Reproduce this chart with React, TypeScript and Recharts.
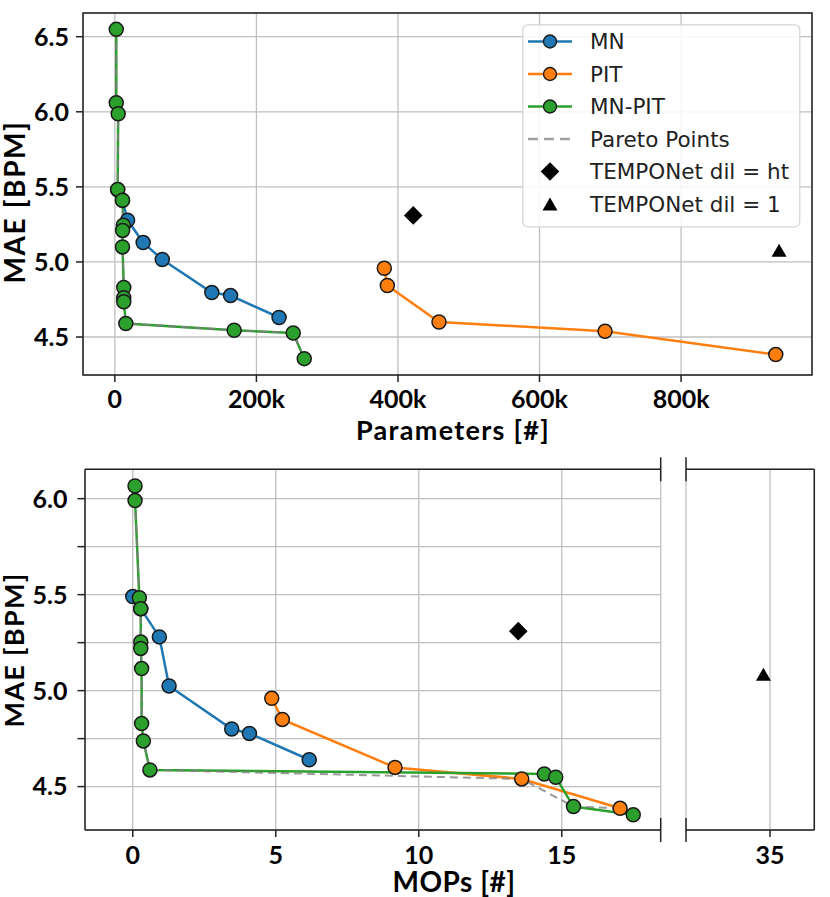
import React from 'react';
import {
  ComposedChart,
  Line,
  Scatter,
  XAxis,
  YAxis,
  CartesianGrid,
  ReferenceLine,
  ReferenceArea,
  Legend,
  Label,
} from 'recharts';

// ---------- data: top panel (Parameters) ----------
const MN_PARAMS = [
  { x: 4000, y: 5.48 },
  { x: 10800, y: 5.41 },
  { x: 18000, y: 5.278 },
  { x: 40000, y: 5.129 },
  { x: 67000, y: 5.016 },
  { x: 137000, y: 4.796 },
  { x: 163500, y: 4.776 },
  { x: 232000, y: 4.63 },
];
const PIT_PARAMS = [
  { x: 380700, y: 4.958 },
  { x: 385000, y: 4.843 },
  { x: 458000, y: 4.6 },
  { x: 692600, y: 4.538 },
  { x: 933800, y: 4.383 },
];
const MNPIT_PARAMS = [
  { x: 2000, y: 6.549 },
  { x: 2000, y: 6.06 },
  { x: 4700, y: 5.987 },
  { x: 4000, y: 5.483 },
  { x: 10800, y: 5.411 },
  { x: 12000, y: 5.245 },
  { x: 11000, y: 5.21 },
  { x: 10800, y: 5.1 },
  { x: 12600, y: 4.83 },
  { x: 12600, y: 4.762 },
  { x: 12600, y: 4.735 },
  { x: 15500, y: 4.59 },
  { x: 168600, y: 4.545 },
  { x: 252000, y: 4.527 },
  { x: 267600, y: 4.356 },
];
const PARETO_PARAMS = MNPIT_PARAMS;
const TEMPO_HT_PARAMS = [{ x: 421600, y: 5.31 }];
const TEMPO_1_PARAMS = [{ x: 938500, y: 5.078 }];
const PARAM_X_TICKS = [0, 200000, 400000, 600000, 800000];
const PARAM_Y_TICKS = [4.5, 5.0, 5.5, 6.0, 6.5];

// ---------- data: bottom panel (MOPs) ----------
const MN_MOPS = [
  { x: 0.0, y: 5.49 },
  { x: 0.28, y: 5.427 },
  { x: 0.93, y: 5.28 },
  { x: 1.27, y: 5.024 },
  { x: 3.46, y: 4.8 },
  { x: 4.08, y: 4.777 },
  { x: 6.17, y: 4.64 },
];
const PIT_MOPS = [
  { x: 4.86, y: 4.96 },
  { x: 5.23, y: 4.85 },
  { x: 9.17, y: 4.6 },
  { x: 13.6, y: 4.54 },
  { x: 17.04, y: 4.387 },
];
const MNPIT_MOPS = [
  { x: 0.08, y: 6.066 },
  { x: 0.08, y: 5.99 },
  { x: 0.23, y: 5.484 },
  { x: 0.28, y: 5.427 },
  { x: 0.28, y: 5.253 },
  { x: 0.28, y: 5.22 },
  { x: 0.31, y: 5.115 },
  { x: 0.31, y: 4.829 },
  { x: 0.37, y: 4.738 },
  { x: 0.6, y: 4.587 },
  { x: 14.39, y: 4.566 },
  { x: 14.79, y: 4.549 },
  { x: 15.41, y: 4.396 },
  { x: 17.5, y: 4.353 },
];
const PARETO_MOPS = [
  { x: 0.08, y: 6.066 },
  { x: 0.08, y: 5.99 },
  { x: 0.23, y: 5.484 },
  { x: 0.28, y: 5.427 },
  { x: 0.28, y: 5.253 },
  { x: 0.28, y: 5.22 },
  { x: 0.31, y: 5.115 },
  { x: 0.31, y: 4.829 },
  { x: 0.37, y: 4.738 },
  { x: 0.6, y: 4.587 },
  { x: 13.6, y: 4.54 },
  { x: 15.41, y: 4.396 },
  { x: 17.04, y: 4.387 },
  { x: 17.5, y: 4.353 },
];
const TEMPO_HT_MOPS = [{ x: 13.48, y: 5.31 }];
const TEMPO_1_MOPS = [{ x: 34.77, y: 5.085 }];
const MOPS_X_TICKS_LEFT = [0, 5, 10, 15];
const MOPS_X_TICKS_RIGHT = [35];
const MOPS_Y_TICKS = [4.5, 4.75, 5.0, 5.25, 5.5, 5.75, 6.0];

const LEGEND_LABELS = ['MN', 'PIT', 'MN-PIT', 'Pareto Points', 'TEMPONet dil = ht', 'TEMPONet dil = 1'];

// ---------- style ----------
const BLUE = '#1f77b4';
const ORANGE = '#ff7f0e';
const GREEN = '#2ca02c';
const EDGE = '#1a1a1a';
const SPINE = '#222';
const GRID = '#bfbfbf';
const PARETO = '#808080';
const BOLD = 'Lato, "Open Sans", sans-serif';
const MPL = '"DejaVu Sans", sans-serif';

// domains
const PX_MIN = -45000;
const PX_MAX = 985000;
const PY_MIN = 4.247;
const PY_MAX = 6.658;
const MX_MIN = -1.67;
const MX_MAX = 18.46;
const MX2_MIN = 32.06;
const MX2_MAX = 36.55;
const MY_MIN = 4.274;
const MY_MAX = 6.153;
const BOTTOM_PLOT_H = 360.7;
const BREAK = (12 * (MY_MAX - MY_MIN)) / BOTTOM_PLOT_H;

const circleShape = (fill: string) => (p: any) => (
  <circle cx={p.cx} cy={p.cy} r={7} fill={fill} stroke={EDGE} strokeWidth={1.5} />
);
const diamondShape = (p: any) => {
  const h = 9.3;
  return (
    <polygon
      points={`${p.cx},${p.cy - h} ${p.cx + h},${p.cy} ${p.cx},${p.cy + h} ${p.cx - h},${p.cy}`}
      fill="#000"
    />
  );
};
const triangleShape = (p: any) => (
  <polygon
    points={`${p.cx},${p.cy - 6.5} ${p.cx + 7.5},${p.cy + 6.5} ${p.cx - 7.5},${p.cy + 6.5}`}
    fill="#000"
  />
);

const fmtK = (v: number) => (v === 0 ? '0' : `${v / 1000}k`);
const fmtHalf = (v: number) => (Math.abs(v * 2 - Math.round(v * 2)) < 1e-6 ? v.toFixed(1) : '');

const LegendBox = () => {
  const colors = [BLUE, ORANGE, GREEN];
  return (
    <svg width={280} height={205} style={{ display: 'block' }}>
      <rect x={0.8} y={0.8} width={277} height={202} rx={5} fill="#fff" fillOpacity={0.85} stroke="#d6d6d6" strokeWidth={1.3} />
      {LEGEND_LABELS.map((label, i) => {
        const cy = 17.5 + i * 32.5;
        let icon: React.ReactNode = null;
        if (i < 3) {
          icon = (
            <g>
              <line x1={6} x2={50} y1={cy} y2={cy} stroke={colors[i]} strokeWidth={2.5} />
              <circle cx={28} cy={cy} r={6.5} fill={colors[i]} stroke={EDGE} strokeWidth={1.4} />
            </g>
          );
        } else if (i === 3) {
          icon = <line x1={6} x2={50} y1={cy} y2={cy} stroke={PARETO} strokeOpacity={0.75} strokeWidth={2.5} strokeDasharray="10 6" />;
        } else if (i === 4) {
          icon = diamondShape({ cx: 28, cy });
        } else {
          icon = triangleShape({ cx: 28, cy });
        }
        return (
          <g key={label}>
            {icon}
            <text x={68} y={cy} dy="0.36em" fontFamily={MPL} fontSize={21.5} fill="#222">
              {label}
            </text>
          </g>
        );
      })}
    </svg>
  );
};

const tickStyle = { fontFamily: BOLD, fontWeight: 700, fontSize: 25, fill: '#000' };

const YLabel = (cx: number, cy: number, size: number, spacing: number) => () => (
  <text
    x={cx}
    y={cy}
    dy="0.36em"
    transform={`rotate(-90, ${cx}, ${cy})`}
    textAnchor="middle"
    fontFamily={BOLD}
    fontWeight={700}
    fontSize={size}
    letterSpacing={spacing}
    fill="#000"
  >
    MAE [BPM]
  </text>
);
const XLabel = (text: string, cx: number, baseline: number, size: number, spacing: number) => () => (
  <text
    x={cx}
    y={baseline}
    textAnchor="middle"
    fontFamily={BOLD}
    fontWeight={700}
    fontSize={size}
    letterSpacing={spacing}
    fill="#000"
  >
    {text}
  </text>
);

const TopChart = () => (
  <ComposedChart width={830} height={450} margin={{ top: 13, right: 18, bottom: 0, left: 0 }}>
    <CartesianGrid stroke={GRID} strokeWidth={1.3} />
    <XAxis
      type="number"
      dataKey="x"
      domain={[PX_MIN, PX_MAX]}
      allowDataOverflow
      ticks={PARAM_X_TICKS}
      tickFormatter={fmtK}
      height={75}
      tickSize={7}
      tickMargin={8}
      tick={tickStyle}
      tickLine={{ stroke: SPINE, strokeWidth: 1.5 }}
      axisLine={false}
    >
      <Label content={XLabel('Parameters [#]', 453, 440, 27, 1.3)} />
    </XAxis>
    <YAxis
      type="number"
      domain={[PY_MIN, PY_MAX]}
      allowDataOverflow
      ticks={PARAM_Y_TICKS}
      tickFormatter={(v: number) => v.toFixed(1)}
      width={83}
      tickSize={7}
      tickMargin={7}
      tick={tickStyle}
      tickLine={{ stroke: SPINE, strokeWidth: 1.5 }}
      axisLine={false}
    >
      <Label content={YLabel(14.5, 202, 28, 1.6)} />
    </YAxis>
    <ReferenceArea x1={PX_MIN} x2={PX_MAX} y1={PY_MIN} y2={PY_MAX} fill="none" fillOpacity={0} stroke={SPINE} strokeWidth={1.5} ifOverflow="visible" />
    <Line data={MN_PARAMS} dataKey="y" stroke={BLUE} strokeWidth={2.5} dot={false} activeDot={false} isAnimationActive={false} />
    <Line data={PIT_PARAMS} dataKey="y" stroke={ORANGE} strokeWidth={2.5} dot={false} activeDot={false} isAnimationActive={false} />
    <Line data={MNPIT_PARAMS} dataKey="y" stroke={GREEN} strokeWidth={2.5} dot={false} activeDot={false} isAnimationActive={false} />
    <Line data={PARETO_PARAMS} dataKey="y" stroke={PARETO} strokeOpacity={0.8} strokeWidth={2} strokeDasharray="8 5" dot={false} activeDot={false} isAnimationActive={false} />
    <Scatter data={MN_PARAMS} dataKey="y" shape={circleShape(BLUE)} isAnimationActive={false} />
    <Scatter data={PIT_PARAMS} dataKey="y" shape={circleShape(ORANGE)} isAnimationActive={false} />
    <Scatter data={MNPIT_PARAMS} dataKey="y" shape={circleShape(GREEN)} isAnimationActive={false} />
    <Scatter data={TEMPO_HT_PARAMS} dataKey="y" shape={diamondShape} isAnimationActive={false} />
    <Scatter data={TEMPO_1_PARAMS} dataKey="y" shape={triangleShape} isAnimationActive={false} />
    <Legend
      layout="vertical"
      align="center"
      verticalAlign="middle"
      content={() => <LegendBox />}
      wrapperStyle={{ left: 522, top: 24, width: 280, height: 205, bottom: 'auto', right: 'auto' }}
    />
  </ComposedChart>
);

const BottomLeftChart = () => (
  <ComposedChart width={672} height={457} margin={{ top: 29.3, right: 11.3, bottom: 0, left: 0 }}>
    <CartesianGrid stroke={GRID} strokeWidth={1.3} />
    <XAxis
      type="number"
      dataKey="x"
      domain={[MX_MIN, MX_MAX]}
      allowDataOverflow
      ticks={MOPS_X_TICKS_LEFT}
      height={67}
      tickSize={7}
      tickMargin={9.5}
      tick={tickStyle}
      tickLine={{ stroke: SPINE, strokeWidth: 1.5 }}
      axisLine={{ stroke: SPINE, strokeWidth: 1.5 }}
    >
      <Label content={XLabel('MOPs [#]', 454, 452, 28, 0.5)} />
    </XAxis>
    <YAxis
      type="number"
      domain={[MY_MIN, MY_MAX]}
      allowDataOverflow
      ticks={MOPS_Y_TICKS}
      tickFormatter={fmtHalf}
      width={85}
      tickSize={7.5}
      tickMargin={10}
      tick={tickStyle}
      tickLine={{ stroke: SPINE, strokeWidth: 1.5 }}
      axisLine={{ stroke: SPINE, strokeWidth: 1.5 }}
    >
      <Label content={YLabel(14.5, 210, 27, 1.3)} />
    </YAxis>
    <ReferenceLine y={MY_MAX} stroke={SPINE} strokeWidth={1.5} ifOverflow="visible" />
    <ReferenceLine segment={[{ x: MX_MAX, y: MY_MAX - BREAK }, { x: MX_MAX, y: MY_MAX + BREAK }]} stroke={SPINE} strokeWidth={1.5} ifOverflow="visible" />
    <ReferenceLine segment={[{ x: MX_MAX, y: MY_MIN - BREAK }, { x: MX_MAX, y: MY_MIN + BREAK }]} stroke={SPINE} strokeWidth={1.5} ifOverflow="visible" />
    <Line data={MN_MOPS} dataKey="y" stroke={BLUE} strokeWidth={2.5} dot={false} activeDot={false} isAnimationActive={false} />
    <Line data={PIT_MOPS} dataKey="y" stroke={ORANGE} strokeWidth={2.5} dot={false} activeDot={false} isAnimationActive={false} />
    <Line data={MNPIT_MOPS} dataKey="y" stroke={GREEN} strokeWidth={2.5} dot={false} activeDot={false} isAnimationActive={false} />
    <Line data={PARETO_MOPS} dataKey="y" stroke={PARETO} strokeOpacity={0.8} strokeWidth={2} strokeDasharray="8 5" dot={false} activeDot={false} isAnimationActive={false} />
    <Scatter data={MN_MOPS} dataKey="y" shape={circleShape(BLUE)} isAnimationActive={false} />
    <Scatter data={PIT_MOPS} dataKey="y" shape={circleShape(ORANGE)} isAnimationActive={false} />
    <Scatter data={MNPIT_MOPS} dataKey="y" shape={circleShape(GREEN)} isAnimationActive={false} />
    <Scatter data={TEMPO_HT_MOPS} dataKey="y" shape={diamondShape} isAnimationActive={false} />
  </ComposedChart>
);

const BottomRightChart = () => (
  <ComposedChart width={156} height={457} margin={{ top: 29.3, right: 15.7, bottom: 0, left: 12 }}>
    <CartesianGrid stroke={GRID} strokeWidth={1.3} />
    <XAxis
      type="number"
      dataKey="x"
      domain={[MX2_MIN, MX2_MAX]}
      allowDataOverflow
      ticks={MOPS_X_TICKS_RIGHT}
      height={67}
      tickSize={7}
      tickMargin={9.5}
      tick={tickStyle}
      tickLine={{ stroke: SPINE, strokeWidth: 1.5 }}
      axisLine={{ stroke: SPINE, strokeWidth: 1.5 }}
    />
    <YAxis
      type="number"
      domain={[MY_MIN, MY_MAX]}
      allowDataOverflow
      ticks={MOPS_Y_TICKS}
      width={0}
      tick={false}
      tickLine={false}
      axisLine={false}
    />
    <ReferenceLine y={MY_MAX} stroke={SPINE} strokeWidth={1.5} ifOverflow="visible" />
    <ReferenceLine x={MX2_MAX} stroke={SPINE} strokeWidth={1.5} ifOverflow="visible" />
    <ReferenceLine segment={[{ x: MX2_MIN, y: MY_MAX - BREAK }, { x: MX2_MIN, y: MY_MAX + BREAK }]} stroke={SPINE} strokeWidth={1.5} ifOverflow="visible" />
    <ReferenceLine segment={[{ x: MX2_MIN, y: MY_MIN - BREAK }, { x: MX2_MIN, y: MY_MIN + BREAK }]} stroke={SPINE} strokeWidth={1.5} ifOverflow="visible" />
    <Scatter data={TEMPO_1_MOPS} dataKey="y" shape={triangleShape} isAnimationActive={false} />
  </ComposedChart>
);

export default function App() {
  return (
    <div style={{ position: 'absolute', left: 0, top: 0, width: 830, height: 897, background: '#fff', overflow: 'hidden' }}>
      <div style={{ position: 'absolute', left: 0, top: 0 }}>
        <TopChart />
      </div>
      <div style={{ position: 'absolute', left: 0, top: 440 }}>
        <BottomLeftChart />
      </div>
      <div style={{ position: 'absolute', left: 674, top: 440 }}>
        <BottomRightChart />
      </div>
    </div>
  );
}
